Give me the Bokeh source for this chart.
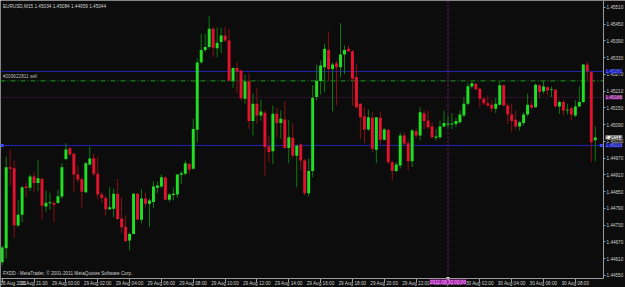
from bokeh.plotting import figure
from bokeh.models import Range1d, FixedTicker, Label, ColumnDataSource, PrintfTickFormatter
from bokeh.embed import file_html
from bokeh.resources import INLINE

# ---- data: EURUSD M15, bars from 26 Aug 2011 19:00 ----
opens = [1.44597, 1.44648, 1.44938, 1.44934, 1.44729, 1.44768, 1.44869, 1.44864, 1.44905, 1.44881,
         1.44896, 1.44797, 1.44809, 1.44810, 1.44810, 1.44833, 1.44967, 1.45006, 1.44986, 1.44912,
         1.44895, 1.44848, 1.44948, 1.44970, 1.44914, 1.44840, 1.44828, 1.44787, 1.44789, 1.44843,
         1.44754, 1.44725, 1.44675, 1.44699, 1.44843, 1.44750, 1.44826, 1.44807, 1.44813, 1.44864,
         1.44869, 1.44901, 1.44821, 1.44838, 1.44840, 1.44911, 1.44914, 1.44950, 1.44932, 1.45072,
         1.45314, 1.45358, 1.45368, 1.45434, 1.45364, 1.45386, 1.45410, 1.45392, 1.45248, 1.45293,
         1.45284, 1.45183, 1.45246, 1.45103, 1.45165, 1.45123, 1.45133, 1.45012, 1.44995, 1.45129,
         1.45096, 1.45109, 1.45007, 1.45043, 1.44979, 1.45019, 1.44962, 1.44845, 1.44924, 1.45189,
         1.45247, 1.45296, 1.45358, 1.45290, 1.45310, 1.45296, 1.45342, 1.45362, 1.45353, 1.45260,
         1.45165, 1.45120, 1.45073, 1.45115, 1.45000, 1.45115, 1.45036, 1.45072, 1.44956, 1.44924,
         1.44944, 1.45051, 1.45024, 1.44959, 1.45067, 1.45051, 1.45131, 1.45105, 1.45084, 1.45043,
         1.45045, 1.45084, 1.45091, 1.45091, 1.45093, 1.45099, 1.45123, 1.45165, 1.45227, 1.45237,
         1.45219, 1.45183, 1.45167, 1.45162, 1.45147, 1.45162, 1.45231, 1.45159, 1.45127, 1.45108,
         1.45084, 1.45096, 1.45127, 1.45162, 1.45153, 1.45231, 1.45210, 1.45224, 1.45214, 1.45215,
         1.45155, 1.45171, 1.45141, 1.45149, 1.45123, 1.45155, 1.45171, 1.45306, 1.45278, 1.45034]
highs = [1.44657, 1.44976, 1.45000, 1.44962, 1.44821, 1.44872, 1.44884, 1.44912, 1.44920, 1.44962,
         1.44902, 1.44854, 1.44847, 1.44819, 1.44857, 1.44952, 1.45024, 1.45010, 1.44988, 1.44942,
         1.44902, 1.44956, 1.45012, 1.44988, 1.44976, 1.44848, 1.44837, 1.44866, 1.44861, 1.44896,
         1.44830, 1.44765, 1.44705, 1.44845, 1.44845, 1.44859, 1.44847, 1.44826, 1.44888, 1.44887,
         1.44912, 1.44905, 1.44846, 1.44866, 1.44914, 1.44924, 1.44962, 1.44952, 1.45111, 1.45327,
         1.45416, 1.45416, 1.45481, 1.45439, 1.45439, 1.45437, 1.45442, 1.45434, 1.45296, 1.45314,
         1.45287, 1.45270, 1.45275, 1.45201, 1.45221, 1.45179, 1.45141, 1.45051, 1.45159, 1.45151,
         1.45141, 1.45174, 1.45108, 1.45096, 1.45019, 1.45024, 1.44968, 1.44968, 1.45231, 1.45306,
         1.45320, 1.45380, 1.45424, 1.45314, 1.45320, 1.45454, 1.45374, 1.45374, 1.45358, 1.45308,
         1.45167, 1.45153, 1.45144, 1.45135, 1.45117, 1.45137, 1.45079, 1.45075, 1.44962, 1.44956,
         1.45062, 1.45063, 1.45036, 1.45075, 1.45077, 1.45153, 1.45141, 1.45141, 1.45098, 1.45075,
         1.45105, 1.45141, 1.45123, 1.45131, 1.45115, 1.45141, 1.45189, 1.45239, 1.45246, 1.45239,
         1.45222, 1.45189, 1.45195, 1.45177, 1.45186, 1.45248, 1.45234, 1.45167, 1.45165, 1.45141,
         1.45105, 1.45135, 1.45201, 1.45177, 1.45237, 1.45234, 1.45248, 1.45227, 1.45227, 1.45219,
         1.45177, 1.45179, 1.45165, 1.45155, 1.45177, 1.45227, 1.45308, 1.45318, 1.45284, 1.45084]
lows = [1.44586, 1.44610, 1.44872, 1.44685, 1.44723, 1.44741, 1.44830, 1.44852, 1.44848, 1.44852,
        1.44750, 1.44779, 1.44785, 1.44741, 1.44807, 1.44825, 1.44962, 1.44980, 1.44848, 1.44884,
        1.44792, 1.44845, 1.44944, 1.44905, 1.44823, 1.44811, 1.44765, 1.44785, 1.44759, 1.44750,
        1.44702, 1.44669, 1.44640, 1.44697, 1.44747, 1.44737, 1.44795, 1.44723, 1.44792, 1.44845,
        1.44864, 1.44819, 1.44813, 1.44819, 1.44828, 1.44878, 1.44908, 1.44914, 1.44930, 1.45027,
        1.45308, 1.45350, 1.45362, 1.45332, 1.45332, 1.45346, 1.45386, 1.45246, 1.45222, 1.45203,
        1.45177, 1.45165, 1.45075, 1.45051, 1.45093, 1.45105, 1.44908, 1.44956, 1.44950, 1.45045,
        1.45040, 1.45004, 1.44952, 1.44968, 1.44866, 1.44929, 1.44837, 1.44833, 1.44902, 1.45177,
        1.45198, 1.45207, 1.45246, 1.45138, 1.45159, 1.45260, 1.45272, 1.45350, 1.45159, 1.45147,
        1.45040, 1.45024, 1.45069, 1.44992, 1.44952, 1.45022, 1.45034, 1.44950, 1.44890, 1.44920,
        1.44933, 1.45016, 1.44926, 1.44938, 1.45041, 1.45034, 1.45072, 1.45075, 1.45040, 1.45034,
        1.45040, 1.45081, 1.45077, 1.45075, 1.45081, 1.45093, 1.45117, 1.45159, 1.45219, 1.45213,
        1.45153, 1.45159, 1.45153, 1.45135, 1.45131, 1.45159, 1.45155, 1.45093, 1.45063, 1.45075,
        1.45069, 1.45087, 1.45120, 1.45147, 1.45151, 1.45186, 1.45201, 1.45195, 1.45189, 1.45153,
        1.45129, 1.45123, 1.45127, 1.45105, 1.45117, 1.45153, 1.45167, 1.45248, 1.44956, 1.44959]
closes = [1.44650, 1.44938, 1.44932, 1.44729, 1.44768, 1.44866, 1.44863, 1.44905, 1.44881, 1.44898,
          1.44800, 1.44811, 1.44811, 1.44803, 1.44834, 1.44938, 1.45001, 1.44983, 1.44912, 1.44894,
          1.44850, 1.44952, 1.44969, 1.44914, 1.44840, 1.44828, 1.44787, 1.44794, 1.44843, 1.44752,
          1.44723, 1.44674, 1.44699, 1.44843, 1.44751, 1.44826, 1.44807, 1.44819, 1.44869, 1.44872,
          1.44902, 1.44821, 1.44840, 1.44843, 1.44912, 1.44916, 1.44952, 1.44930, 1.45075, 1.45313,
          1.45358, 1.45368, 1.45434, 1.45366, 1.45384, 1.45410, 1.45392, 1.45248, 1.45293, 1.45281,
          1.45185, 1.45245, 1.45103, 1.45165, 1.45123, 1.45137, 1.45010, 1.44992, 1.45129, 1.45096,
          1.45111, 1.45007, 1.45045, 1.44980, 1.45015, 1.44962, 1.44845, 1.44924, 1.45187, 1.45248,
          1.45302, 1.45362, 1.45290, 1.45306, 1.45296, 1.45342, 1.45358, 1.45353, 1.45255, 1.45153,
          1.45117, 1.45073, 1.45117, 1.45004, 1.45117, 1.45036, 1.45073, 1.44956, 1.44924, 1.44948,
          1.45051, 1.45022, 1.44959, 1.45069, 1.45051, 1.45135, 1.45103, 1.45081, 1.45045, 1.45048,
          1.45084, 1.45096, 1.45093, 1.45093, 1.45103, 1.45127, 1.45165, 1.45228, 1.45239, 1.45217,
          1.45183, 1.45167, 1.45159, 1.45147, 1.45165, 1.45231, 1.45159, 1.45127, 1.45103, 1.45084,
          1.45099, 1.45127, 1.45162, 1.45151, 1.45233, 1.45207, 1.45227, 1.45213, 1.45215, 1.45155,
          1.45171, 1.45141, 1.45144, 1.45127, 1.45155, 1.45171, 1.45306, 1.45282, 1.45027, 1.45044]

time_tick_bars = [0, 8, 16, 24, 32, 40, 48, 56, 64, 72, 80, 88, 96, 104, 112, 120, 128, 136, 144]
time_tick_labels = ["26 Aug 2011", "26 Aug 21:00", "29 Aug 00:00", "29 Aug 02:00", "29 Aug 04:00",
                    "29 Aug 06:00", "29 Aug 08:00", "29 Aug 10:00", "29 Aug 12:00", "29 Aug 14:00",
                    "29 Aug 16:00", "29 Aug 18:00", "29 Aug 20:00", "29 Aug 22:00", "30 Aug 00:00",
                    "30 Aug 02:00", "30 Aug 04:00", "30 Aug 06:00", "30 Aug 08:00"]
price_ticks = [1.44550, 1.44610, 1.44670, 1.44730, 1.44790, 1.44850, 1.44910, 1.44970, 1.45030,
               1.45090, 1.45150, 1.45210, 1.45270, 1.45330, 1.45390, 1.45450, 1.45510]

order_price = 1.45247          # "#209622811 sell"
blue_line_top = 1.45281
blue_line_bottom = 1.45016
magenta_line = 1.45188
bid_price = 1.45044
vline_bar = 112
vline_label = "2011.08.30 00:00"

# ---- view window (bars / prices) ----
x_start, x_end = -0.43, 156.6      # visible bar span of the window
axis_x = 151.1                      # where the price scale sits
y_start, y_end = 1.44507, 1.45535  # visible price span
axis_y = 1.44539                    # where the time scale sits

# ---- styling ----
BG = "#0b0c0b"
BULL, BEAR = "#22de22", "#e0122e"
BULL_WICK, BEAR_WICK = "#117a11", "#8a1016"
FONT = "Liberation Sans"
TXT = "#d0d0d0"
AXC = "#9a9a9a"
SCALE_FS = "4.6px"
TEXT_FS = "4.7px"

n = len(opens)
xs = list(range(n))
min_body = 0.00003
tops, bottoms, body_c, wick_c = [], [], [], []
for o, c in zip(opens, closes):
    t, b = max(o, c), min(o, c)
    if t - b < min_body:
        t = b + min_body
    tops.append(t)
    bottoms.append(b)
    up = c >= o
    body_c.append(BULL if up else BEAR)
    wick_c.append(BULL_WICK if up else BEAR_WICK)

src = ColumnDataSource(dict(x=xs, h=highs, l=lows, top=tops, bottom=bottoms, bc=body_c, wc=wick_c))

p = figure(width=625, height=287, output_backend="svg", toolbar_location=None,
           x_range=Range1d(x_start, x_end), y_range=Range1d(y_start, y_end),
           y_axis_location="right", min_border_left=0, min_border_top=0,
           min_border_right=0, min_border_bottom=0)
p.background_fill_color = BG
p.border_fill_color = BG
p.outline_line_color = None
p.grid.visible = False

xa, ya = p.xaxis[0], p.yaxis[0]
xa.fixed_location = axis_y
ya.fixed_location = axis_x
xa.bounds = (x_start, axis_x)
ya.bounds = (axis_y, y_end)
for ax in (xa, ya):
    ax.axis_line_color = AXC
    ax.major_tick_line_color = AXC
    ax.minor_tick_line_color = None
    ax.major_tick_in = 0
    ax.major_label_text_color = TXT
    ax.major_label_text_font = FONT

ya.ticker = FixedTicker(ticks=price_ticks)
ya.formatter = PrintfTickFormatter(format="%.5f")
ya.major_tick_out = 2
ya.major_label_standoff = 1
ya.major_label_text_font_size = SCALE_FS

xa.ticker = FixedTicker(ticks=time_tick_bars)
xa.major_label_overrides = {b: s for b, s in zip(time_tick_bars, time_tick_labels)}
xa.major_tick_out = 4
xa.major_label_standoff = -2
xa.major_label_text_font_size = TEXT_FS
xa.major_label_text_align = "left"

# object lines (horizontal lines end at the price scale)
hl = [blue_line_top, blue_line_bottom]
p.segment(x0=[x_start] * 2, y0=hl, x1=[axis_x] * 2, y1=hl, line_color="#2424b4", line_width=1)
p.segment(x0=[x_start], y0=[order_price], x1=[axis_x], y1=[order_price], line_color="#1f9a1f",
          line_width=1, line_dash="5 2 1 2")
p.segment(x0=[x_start], y0=[magenta_line], x1=[axis_x], y1=[magenta_line], line_color="#6a206a",
          line_width=1, line_dash="1 2")
p.segment(x0=[vline_bar], y0=[axis_y], x1=[vline_bar], y1=[y_end], line_color="#7a207a",
          line_width=1, line_dash="2 2")

# candles
p.segment(x0="x", y0="l", x1="x", y1="h", line_color="wc", line_width=1, source=src)
p.vbar(x="x", width=0.74, top="top", bottom="bottom", fill_color="bc", line_color=None, source=src)

# line anchor markers
p.scatter([x_start + 0.4, axis_x - 0.6], [blue_line_bottom, blue_line_bottom], marker="square",
          size=3, fill_color="#3a4cff", line_color=None)
p.scatter([vline_bar], [axis_y], marker="square", size=3, fill_color="#f0f0f0", line_color=None)

# texts
p.add_layout(Label(x=x_start + 0.6, y=y_end, y_offset=-3,
                   text="EURUSD,M15  1.45034 1.45084 1.44959 1.45044",
                   text_font=FONT, text_font_size=TEXT_FS, text_color=TXT, text_baseline="top"))
p.add_layout(Label(x=x_start + 0.6, y=order_price, y_offset=2, text="#209622811 sell",
                   text_font=FONT, text_font_size=TEXT_FS, text_color="#b8b8b8", text_baseline="bottom"))
p.add_layout(Label(x=x_start + 0.6, y=axis_y, y_offset=3,
                   text="FXDD - MetaTrader, © 2001-2011 MetaQuotes Software Corp.",
                   text_font=FONT, text_font_size=TEXT_FS, text_color=TXT, text_baseline="bottom"))

# price boxes on the price scale
for price, fill, col in [(blue_line_top, "#1a1aa8", "#7080ff"),
                         (magenta_line, "#7a1f7a", "#e0a0e0"),
                         (bid_price, "#f0f0f0", "#000000"),
                         (blue_line_bottom, "#1a1aa8", "#8090ff")]:
    p.add_layout(Label(x=axis_x, y=price, x_offset=2, text=f"{price:.5f}", text_font=FONT,
                       text_font_size=SCALE_FS, text_color=col, text_baseline="middle",
                       background_fill_color=fill))

# vertical line label on time scale
p.add_layout(Label(x=vline_bar, y=axis_y, y_offset=-1, text=vline_label, text_font=FONT,
                   text_font_size=TEXT_FS, text_color="#f0b0f0", text_baseline="top",
                   text_align="center", background_fill_color="#a020a8"))

open("out.html", "w").write(file_html(p, INLINE))
